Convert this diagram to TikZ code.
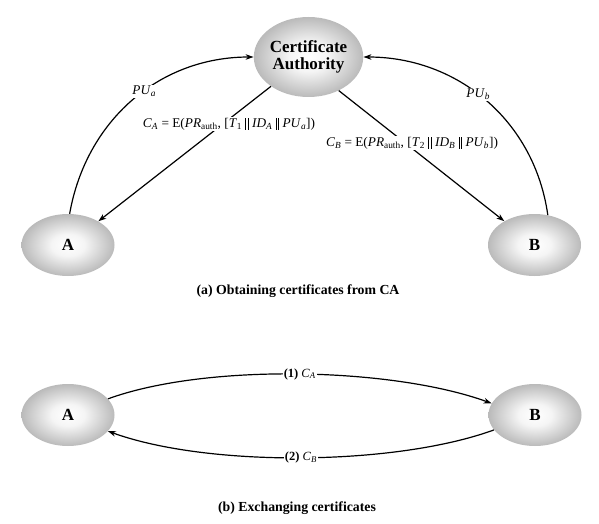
\documentclass[tikz,border=0pt]{standalone}
\usepackage{fontspec}
\setmainfont{Liberation Serif}
\usetikzlibrary{arrows.meta,shapes.geometric}
\pgfdeclareradialshading{ballshade}{\pgfpoint{0bp}{0bp}}{color(0bp)=(white); color(9bp)=(white!96!black); color(25bp)=(black!27); color(50bp)=(black!27)}
\newcommand{\pbar}{\rule[-0.18em]{0.07em}{0.9em}\kern0.12em\rule[-0.18em]{0.07em}{0.9em}}
\newcommand{\sbi}[1]{\textsubscript{\textit{#1}}}
\tikzset{
  ball/.style={ellipse, shading=ballshade, font=\bfseries\fontsize{17}{18}\selectfont, inner sep=0pt},
  small ball/.style={ball, minimum width=93pt, minimum height=62pt},
  conn/.style={line width=1.2pt, -{Stealth[length=8pt,width=5.5pt]}},
  lbl/.style={fill=white, inner sep=1pt, font=\fontsize{13.3}{14}\selectfont},
  captext/.style={font=\bfseries\fontsize{13.8}{15}\selectfont},
}
\begin{document}
\begin{tikzpicture}[x=1pt,y=-1pt]
\useasboundingbox (0,0) rectangle (599,524);
% part (a)
\node[ball, minimum width=109pt, minimum height=80pt, align=center] (CA) at (308.5,57) {Certificate\\[-1pt]Authority};
\node[small ball] (A) at (68,245) {A};
\node[small ball] (B) at (534.5,245) {B};
\draw[conn] (A.87) to[out=80,in=180] node[lbl, pos=0.56] {\textit{PU}\sbi{a}} (CA.west);
\draw[conn] (B.66) to[out=98,in=0] node[lbl, pos=0.54] {\textit{PU}\sbi{b}} (CA.east);
\draw[conn] (CA) -- (A);
\draw[conn] (CA.-48) -- (B);
\node[lbl] (la) at (229,124) {\textit{C}\sbi{A} = E(\textit{PR}\textsubscript{auth}, [\textit{T}\textsubscript{1} \pbar{} \textit{ID}\sbi{A} \pbar{} \textit{PU}\sbi{a}])};
\node[lbl] (lb) at (412,143) {\textit{C}\sbi{B} = E(\textit{PR}\textsubscript{auth}, [\textit{T}\textsubscript{2} \pbar{} \textit{ID}\sbi{B} \pbar{} \textit{PU}\sbi{b}])};
\node[captext] (capa) at (298,291) {(a) Obtaining certificates from CA};
% part (b)
\node[small ball] (A2) at (68,415) {A};
\node[small ball] (B2) at (535,415) {B};
\draw[conn] (A2.22) to[out=20,in=160,looseness=0.7] node[lbl, font=\fontsize{12.5}{13}\selectfont] {\textbf{(1)} \textit{C}\sbi{A}} (B2.165);
\draw[conn] (B2.200) to[out=200,in=-20,looseness=0.7] node[lbl, font=\fontsize{12.5}{13}\selectfont] {\textbf{(2)} \textit{C}\sbi{B}} (A2.-22);
\node[captext] (capb) at (297,508) {(b) Exchanging certificates};
\end{tikzpicture}
\end{document}
